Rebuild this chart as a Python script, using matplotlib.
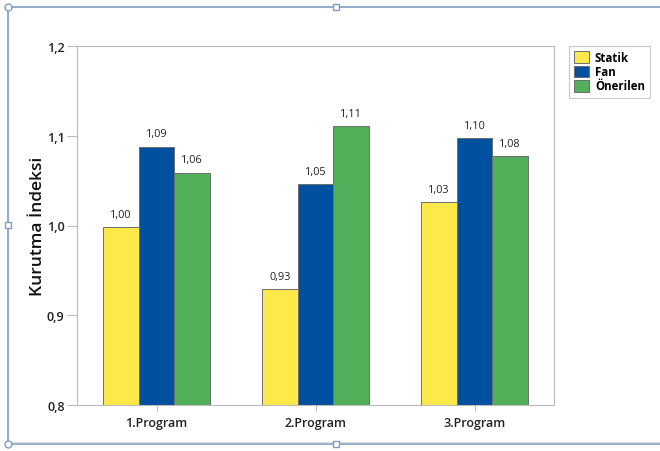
import matplotlib
matplotlib.use("Agg")
import matplotlib.pyplot as plt
import numpy as np
from matplotlib.lines import Line2D

plt.rcParams['font.family'] = ['Open Sans', 'DejaVu Sans']

categories = ["1.Program", "2.Program", "3.Program"]
series_names = ["Statik", "Fan", "Önerilen"]
statik = [0.998, 0.929, 1.026]
fan = [1.088, 1.046, 1.097]
onerilen = [1.059, 1.111, 1.077]
yticks = [0.8, 0.9, 1.0, 1.1, 1.2]
colors = ["#FFE94A", "#0050A0", "#52B05A"]

fig = plt.figure(figsize=(6.6, 4.52), dpi=100)
ax = fig.add_axes([77/660, 1-406/452, (554-77)/660, (406-47)/452])

x = np.arange(len(categories))
w = 0.224
for i, (vals, c, name) in enumerate(zip([statik, fan, onerilen], colors, series_names)):
    pos = x + (i-1)*w
    ax.bar(pos, [v-0.8 for v in vals], bottom=0.8, width=w, color=c,
           edgecolor="#6E6E6E", linewidth=0.7, label=name)
    for p, v in zip(pos, vals):
        ax.text(p, v + 0.008, f"{v:.2f}".replace(".", ","), ha="center", va="bottom",
                fontsize=7.8, color="#222222")

ax.set_xlim(-0.5, 2.5)
ax.set_ylim(0.8, 1.2)
ax.set_yticks(yticks)
ax.set_yticklabels([f"{t:.1f}".replace(".", ",") for t in yticks], fontsize=9,
                   fontweight="semibold", color="#222222")
ax.set_xticks(x)
ax.set_xticklabels(categories, fontsize=9, fontweight="semibold", color="#222222")
ax.tick_params(axis="y", length=7, color="#BBBBBB", width=0.8, pad=2)
ax.tick_params(axis="x", length=4, color="#BBBBBB", width=0.8, pad=4)
for s in ax.spines.values():
    s.set_color("#BBBBBB")
    s.set_linewidth(0.8)
ax.set_ylabel("Kurutma İndeksi", fontsize=12.5, fontweight="semibold", color="#111111")
ax.yaxis.set_label_coords((46-77)/477, 0.5)

leg = ax.legend(loc="upper left", bbox_to_anchor=((569-77)/(554-77), 1.0),
                frameon=True, prop={"weight": "bold", "size": 8.3},
                handlelength=1.3, handleheight=1.2, handletextpad=0.5,
                borderpad=0.45, labelspacing=0.1, fancybox=False, borderaxespad=0)
leg.get_frame().set_edgecolor("#BBBBBB")
leg.get_frame().set_linewidth(0.8)

# selection frame
fc = "#7F9DC4"
def fx(px): return px/660
def fy(py): return 1 - py/452
fig.add_artist(Line2D([fx(8), fx(660)], [fy(8), fy(8)], color=fc, lw=1.2))
fig.add_artist(Line2D([fx(8), fx(8)], [fy(8), fy(445)], color=fc, lw=1.2))
fig.add_artist(Line2D([fx(8), fx(660)], [fy(445), fy(445)], color=fc, lw=1.2))
fig.add_artist(Line2D([fx(8), fx(660)], [fy(443), fy(443)], color="#DDDDDD", lw=1.0))
for (px, py) in [(8, 8), (8, 445)]:
    fig.add_artist(Line2D([fx(px)], [fy(py)], marker="o", markersize=5,
                          markerfacecolor="white", markeredgecolor=fc, mew=1))
for (px, py) in [(336, 8), (336, 445), (8, 226)]:
    fig.add_artist(Line2D([fx(px)], [fy(py)], marker="s", markersize=4,
                          markerfacecolor="white", markeredgecolor=fc, mew=1))

fig.savefig("out.png", dpi=100)
